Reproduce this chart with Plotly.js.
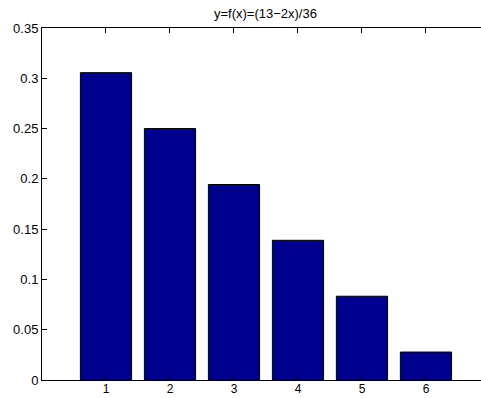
<!DOCTYPE html>
<html><head><meta charset="utf-8">
<script src="https://cdn.plot.ly/plotly-3.0.1.min.js"></script>
<style>html,body{margin:0;padding:0;background:#fff}</style>
</head><body>
<div id="chart" style="width:481px;height:398px"></div>
<script>
const categories = [1, 2, 3, 4, 5, 6];
const values = [0.3056, 0.25, 0.1944, 0.1389, 0.0833, 0.0278];
const yTicks = [0, 0.05, 0.1, 0.15, 0.2, 0.25, 0.3, 0.35];
const yTickText = ['0', '0.05', '0.1', '0.15', '0.2', '0.25', '0.3', '0.35'];
const titleText = 'y=f(x)=(13\u22122x)/36';

const trace = {
  type: 'bar', x: categories, y: values, width: 0.8,
  marker: {color: '#00008F', line: {color: '#000000', width: 1}},
  hoverinfo: 'none'
};
const font = {family: 'Liberation Sans, Arial, sans-serif', size: 13, color: '#000'};
const xfont = {family: 'Liberation Sans, Arial, sans-serif', size: 12, color: '#000'};
const layout = {
  width: 481, height: 398,
  margin: {l: 42, r: 0, t: 28, b: 18, pad: 0},
  paper_bgcolor: '#fff', plot_bgcolor: '#fff',
  font: font, showlegend: false, bargap: 0.2,
  title: {text: titleText, font: {family: font.family, size: 13, color: '#000'},
          x: 0.509, xanchor: 'center', y: 0.965, yanchor: 'middle', xref: 'paper', yref: 'container'},
  xaxis: {range: [0, 6.86], tickvals: categories, ticktext: categories.map(String),
          ticks: 'inside', ticklen: 5, tickcolor: '#000', showgrid: false, zeroline: false,
          showline: true, linecolor: '#000', linewidth: 1, mirror: 'ticks',
          ticklabelstandoff: -2, tickfont: xfont, fixedrange: true},
  yaxis: {range: [0, 0.35], tickvals: yTicks, ticktext: yTickText,
          ticks: 'inside', ticklen: 5, tickcolor: '#000', showgrid: false, zeroline: false,
          showline: true, linecolor: '#000', linewidth: 1, mirror: false,
          tickfont: font, fixedrange: true}
};
Plotly.newPlot('chart', [trace], layout, {displayModeBar: false, staticPlot: true});
</script>
</body></html>
